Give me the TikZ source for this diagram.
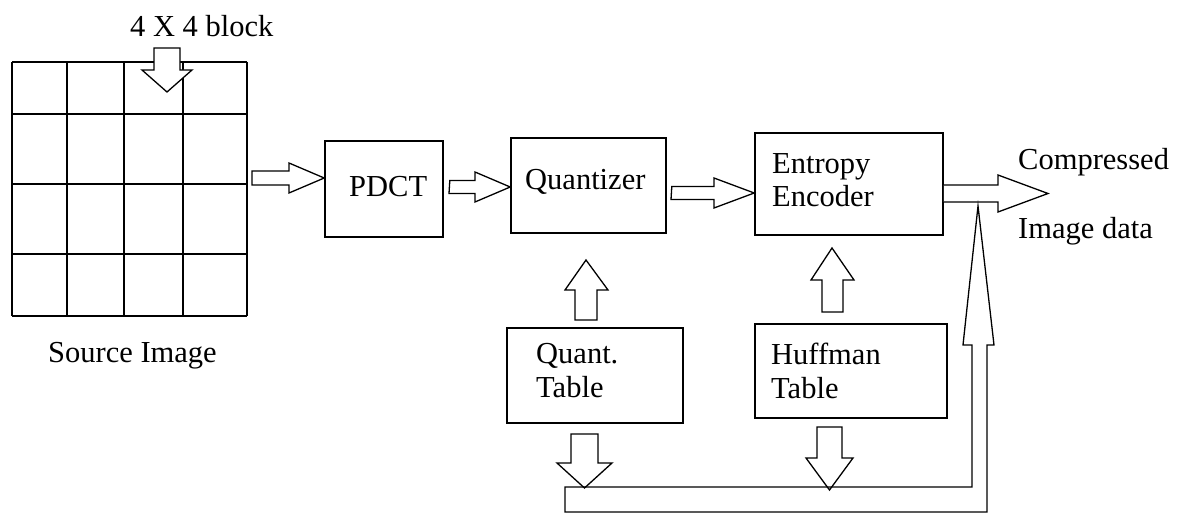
\documentclass[tikz,border=0pt]{standalone}
\usepackage{fontspec}
\setmainfont{Liberation Serif}
\begin{document}
\begin{tikzpicture}[x=1pt,y=-1pt,
  box/.style={draw,line width=1.6pt,inner sep=0pt},
  lbl/.style={inner sep=0pt,anchor=west,font=\fontsize{30.5}{35}\selectfont},
  barrow/.style={draw,line width=1.3pt,line join=miter,fill=white},
  gridline/.style={line width=1.6pt}]
\useasboundingbox (0,0) rectangle (1194,513);
% source image grid
\coordinate (g1) at (12,62);
\coordinate (g2) at (247,316);
\foreach \x in {12,67,124,183,247} \draw[gridline] (\x,62) -- (\x,316);
\foreach \y in {62,114,184,254,316} \draw[gridline] (12,\y) -- (247,\y);
\node[lbl] (blk) at (130,26) {4 X 4 block};
\node[lbl] (src) at (48,356) {Source Image};
% boxes
\node[box,minimum width=118pt,minimum height=96pt] (pdct) at (384,189) {};
\node[box,minimum width=155pt,minimum height=95pt] (quant) at (588.5,185.5) {};
\node[box,minimum width=188pt,minimum height=102pt] (ent) at (849,184) {};
\node[box,minimum width=176pt,minimum height=95pt] (qt) at (595,375.5) {};
\node[box,minimum width=192pt,minimum height=94pt] (ht) at (851,371) {};
% texts
\node[lbl] (tpdct) at (349,187) {PDCT};
\node[lbl] (tquant) at (525,182) {Quantizer};
\node[lbl,align=left] (tent) at (772,180) {Entropy\\[-2pt]Encoder};
\node[lbl,align=left] (tqt) at (536,371) {Quant.\\[-1pt]Table};
\node[lbl,align=left] (tht) at (771,371) {Huffman\\[-1pt]Table};
\node[lbl] (tc1) at (1018,162) {Compressed};
\node[lbl] (tc2) at (1018,231) {Image data};
% block arrow on grid
\draw[barrow] (154,48) -- (180,48) -- (180,70) -- (192,70) -- (167,92) -- (142,70) -- (154,70) -- cycle;
% right arrows
\draw[barrow] (252,171) -- (289,171) -- (289,163) -- (pdct.west |- 0,178) -- (289,193) -- (289,185) -- (252,185) -- cycle;
\draw[barrow] (pdct.east |- 0,180.5) ++(6,0) -- (475,180.5) -- (475,172) -- (quant.west |- 0,187) -- (475,202) -- (475,193.5) -- (449,193.5) -- cycle;
\draw[barrow] (quant.east |- 0,186.5) ++(5,0) -- (714,186.5) -- (714,178) -- (ent.west |- 0,193) -- (714,208) -- (714,199.5) -- (671,199.5) -- cycle;
\draw[barrow] (ent.east |- 0,185) -- (998,185) -- (998,175) -- (1048,193.5) -- (998,212) -- (998,202) -- (ent.east |- 0,202);
% up arrows
\draw[barrow] (575,320) -- (575,290) -- (565,290) -- (586,260) -- (608,290) -- (597,290) -- (597,320) -- cycle;
\draw[barrow] (822,312) -- (822,280) -- (811,280) -- (832,248) -- (854,280) -- (843,280) -- (843,312) -- cycle;
% down arrows
\draw[barrow] (571,434) -- (598,434) -- (598,463) -- (612,463) -- (584.5,488) -- (557,463) -- (571,463) -- cycle;
\draw[barrow] (817,427) -- (842,427) -- (842,458) -- (853,458) -- (829.5,490) -- (806,458) -- (817,458) -- cycle;
% bottom channel to output
\coordinate (tipc) at (978,206);
\draw[barrow,fill=none] (565,487) -- (972,487) -- (972,345) -- (963,345) -- (tipc) -- (994,345) -- (987,345) -- (987,512) -- (565,512) -- cycle;
\end{tikzpicture}
\end{document}
